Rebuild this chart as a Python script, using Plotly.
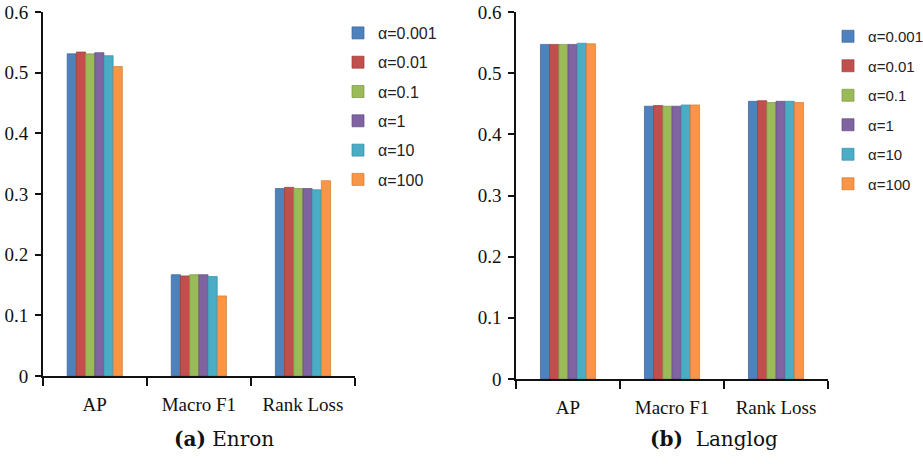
import plotly.graph_objects as go

categories = ["AP", "Macro F1", "Rank Loss"]
series_names = ["α=0.001", "α=0.01", "α=0.1", "α=1", "α=10", "α=100"]
colors = ["#4F81BD", "#C0504D", "#9BBB59", "#8064A2", "#4BACC6", "#F79646"]
edge_colors = ["#3A6496", "#9C3B38", "#7A9644", "#624C80", "#3590A8", "#D6782E"]

# Enron values per series: [AP, Macro F1, Rank Loss]
enron_001 = [0.531, 0.167, 0.309]
enron_01 = [0.534, 0.165, 0.311]
enron_1 = [0.531, 0.167, 0.309]
enron_1_0 = [0.533, 0.167, 0.309]
enron_10 = [0.528, 0.164, 0.307]
enron_100 = [0.510, 0.132, 0.322]

# Langlog values per series
lang_001 = [0.547, 0.446, 0.454]
lang_01 = [0.547, 0.447, 0.455]
lang_1 = [0.547, 0.446, 0.452]
lang_1_0 = [0.547, 0.446, 0.454]
lang_10 = [0.549, 0.448, 0.454]
lang_100 = [0.548, 0.448, 0.452]

enron = [enron_001, enron_01, enron_1, enron_1_0, enron_10, enron_100]
langlog = [lang_001, lang_01, lang_1, lang_1_0, lang_10, lang_100]

y_ticks = [0, 0.1, 0.2, 0.3, 0.4, 0.5, 0.6]
y_ticktext = ["0", "0.1", "0.2", "0.3", "0.4", "0.5", "0.6"]

W, H = 923, 464
fig = go.Figure()

for i, name in enumerate(series_names):
    fig.add_trace(go.Bar(
        x=categories, y=enron[i], name=name,
        marker=dict(color=colors[i], line=dict(color=edge_colors[i], width=0.7)),
        xaxis="x", yaxis="y", legend="legend", legendgroup="a%d" % i,
    ))
for i, name in enumerate(series_names):
    fig.add_trace(go.Bar(
        x=categories, y=langlog[i], name=name,
        marker=dict(color=colors[i], line=dict(color=edge_colors[i], width=0.7)),
        xaxis="x2", yaxis="y2", legend="legend2", legendgroup="b%d" % i,
    ))

serif = "Liberation Serif"
axis_font = dict(family=serif, size=19, color="#111")

def xaxis_style(domain, anchor):
    return dict(
        domain=domain, anchor=anchor, showline=True, linecolor="#111", linewidth=1.5,
        ticks="outside", tickson="boundaries", ticklen=8, tickwidth=1.5, tickcolor="#111",
        showgrid=False, tickfont=axis_font, ticklabelstandoff=10, fixedrange=True,
        automargin=False,
    )

def yaxis_style(domain, anchor):
    return dict(
        domain=domain, anchor=anchor, range=[0, 0.6], tickvals=y_ticks, ticktext=y_ticktext,
        showline=True, linecolor="#111", linewidth=1.5, ticks="outside", ticklen=6,
        tickwidth=1.5, tickcolor="#111", showgrid=False, zeroline=False,
        tickfont=axis_font, ticklabelstandoff=3, fixedrange=True, automargin=False,
    )

def legend_common(size, gap):
    return dict(
        font=dict(family="Liberation Sans", size=size, color="#222"),
        bgcolor="rgba(0,0,0,0)", borderwidth=0, tracegroupgap=gap,
        xanchor="left", yanchor="top", itemclick=False, itemdoubleclick=False,
    )

fig.update_layout(
    width=W, height=H,
    margin=dict(l=0, r=0, t=0, b=0, autoexpand=False),
    paper_bgcolor="white", plot_bgcolor="white",
    barmode="group", bargap=0.47, bargroupgap=0,
    showlegend=True,
    xaxis=xaxis_style([42.7 / W, 355 / W], "y"),
    yaxis=yaxis_style([1 - 376 / H, 1 - 12 / H], "x"),
    xaxis2=xaxis_style([516 / W, 828 / W], "y2"),
    yaxis2=yaxis_style([1 - 379 / H, 1 - 12 / H], "x2"),
    legend=dict(x=338 / W, y=1 - 16 / H, **legend_common(16, 5.5)),
    legend2=dict(x=828 / W, y=1 - 20 / H, **legend_common(15, 7)),
    annotations=[
        dict(text="<b>(a)</b> Enron", x=224 / W, y=1 - 439 / H, xref="paper", yref="paper",
             showarrow=False, xanchor="center", yanchor="middle",
             font=dict(family="DejaVu Serif", size=20, color="#111")),
        dict(text="<b>(b)</b>  Langlog", x=714 / W, y=1 - 439 / H, xref="paper", yref="paper",
             showarrow=False, xanchor="center", yanchor="middle",
             font=dict(family="DejaVu Serif", size=20, color="#111")),
    ],
)

fig.write_html("out.html")
